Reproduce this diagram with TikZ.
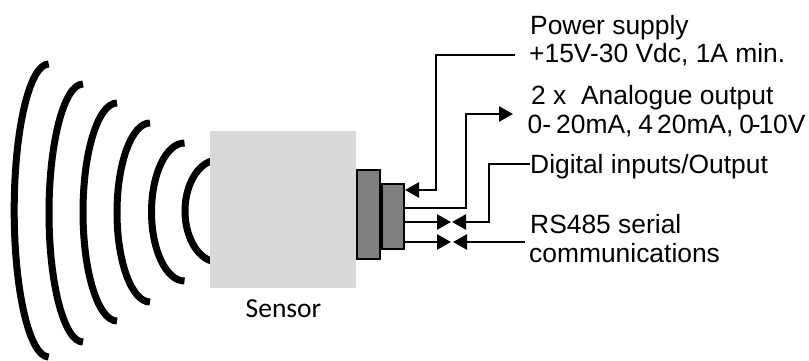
\documentclass[tikz,border=0pt]{standalone}
\usepackage{fontspec}
\setmainfont{Liberation Sans}
\newfontfamily\sensorfont{Carlito}
\usepackage{xcolor}
\usetikzlibrary{arrows.meta}
\definecolor{SensorGray}{HTML}{D9D9D9}
\definecolor{PlugGray}{HTML}{7F7F7F}
\tikzset{
  wave/.style={line width=7pt},
  plug/.style={draw=black, line width=1.6pt, fill=PlugGray, inner sep=0pt},
  wire/.style={line width=2.6pt, -{Triangle[length=14pt,width=15pt]}},
  lbl/.style={font=\fontsize{26.4}{28}\selectfont, anchor=base west, inner sep=0pt}
}

\begin{document}
\begin{tikzpicture}[x=1pt,y=-1pt]
  \useasboundingbox (0,0) rectangle (809,361);

  % Sound waves: top end x, top end y, x radius, y radius
  \foreach \tx/\ty/\rx/\ry in {48.7/64/34.5/146.5, 83/84/34/129, 117/103/34/109, 150/123/33/89.5, 184.5/143/33/69, 218/160/33/51}
    {\draw[wave] (\tx,\ty) arc[start angle=90, end angle=270, x radius=\rx pt, y radius=\ry pt];}

  % Sensor body and connector blocks
  \node[fill=SensorGray, minimum width=146pt, minimum height=157pt, inner sep=0pt] (sensor) at (283,209) {};
  \node[plug, minimum width=23pt, minimum height=89pt] (flange) at (368.5,214.5) {};
  \node[plug, minimum width=22pt, minimum height=65pt] (socket) at (393,216.5) {};

  % Labels
  \node[font=\sensorfont\fontsize{27.5}{30}\selectfont, anchor=base] (sensorlbl) at (283.5,317) {Sensor};
  \node[lbl] (power) at (530,35) {Power supply};
  \node[lbl] (powerb) at (529,63) {+15V-30 Vdc, 1A min.};
  \node[lbl] (analogue) at (531,105) {2 x\ \ Analogue output};
  \node[lbl] (analogueb) at (527.5,133) {0-\hspace{5pt}20mA,\hspace{6pt}4\hspace{4pt}20mA,\hspace{6pt}0\kern-2.2pt-\kern-2.2pt 10V};
  \node[lbl] (digital) at (530,173) {Digital inputs/Output};
  \node[lbl] (rs) at (530,233) {RS485 serial};
  \node[lbl] (rsb) at (529,262) {communications};

  % Wire ends and bends
  \coordinate (powerend) at (515,55);
  \coordinate (powerbend) at (436,55);
  \coordinate (powertip) at (405,190);
  \coordinate (analoguebend) at (466,114);
  \coordinate (analoguetip) at (513,114);
  \coordinate (digitalbend) at (489,164);
  \coordinate (digitaltip) at (452,222);
  \coordinate (outtip) at (451,222);
  \coordinate (rstip) at (453,242);
  \coordinate (rsintip) at (451,242);
  \coordinate (rsend) at (525,242);

  % Wires
  \draw[wire] (powerend) -- (powerbend) |- (powertip);
  \draw[wire] (socket.east |- 0,208) -| (analoguebend) -- (analoguetip);
  \draw[wire] (digital.west |- digitalbend) -- (digitalbend) |- (digitaltip);
  \draw[wire] (socket.east |- outtip) -- (outtip);
  \draw[wire] (socket.east |- rsintip) -- (rsintip);
  \draw[wire] (rsend) -- (rstip);
\end{tikzpicture}
\end{document}
